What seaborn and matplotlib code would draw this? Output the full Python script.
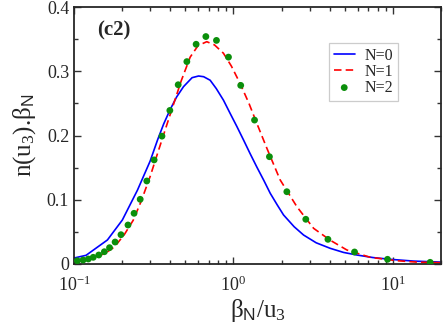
import matplotlib
matplotlib.use("Agg")
import matplotlib.pyplot as plt
import seaborn as sns
import pandas as pd
import numpy as np
from matplotlib.ticker import LogLocator, MultipleLocator, NullFormatter

# ---- data ----
n0_x = [0.1, 0.119, 0.162, 0.201, 0.25, 0.30, 0.334, 0.365, 0.40, 0.44, 0.486, 0.55, 0.604,
        0.65, 0.714, 0.78, 0.865, 0.95, 1.05, 1.156, 1.27, 1.40, 1.55, 1.70, 1.88, 2.06,
        2.40, 2.75, 3.3, 4.04, 4.9, 5.94, 7.5, 9.6, 13.5, 19.8]
n0_y = [0.0093, 0.0135, 0.0374, 0.0685, 0.115, 0.160, 0.193, 0.218, 0.240, 0.260, 0.276,
        0.290, 0.2926, 0.2915, 0.286, 0.273, 0.255, 0.235, 0.214, 0.193, 0.172, 0.151, 0.130,
        0.110, 0.092, 0.0763, 0.058, 0.0451, 0.033, 0.0244, 0.018, 0.014, 0.010, 0.0073,
        0.0045, 0.003]

n1_x = [0.1, 0.12, 0.14, 0.162, 0.18, 0.207, 0.235, 0.263, 0.30, 0.339, 0.38, 0.42,
        0.47, 0.535, 0.60, 0.68, 0.76, 0.865, 0.97, 1.10, 1.25, 1.40, 1.62, 1.96,
        2.50, 3.18, 4.04, 5.14, 7.2, 10.6, 14.0, 20.0]
n1_y = [0.003, 0.006, 0.011, 0.019, 0.027, 0.046, 0.068, 0.097, 0.136, 0.177, 0.215, 0.248,
        0.285, 0.322, 0.340, 0.346, 0.341, 0.328, 0.308, 0.281, 0.250, 0.219, 0.180, 0.131,
        0.089, 0.0555, 0.037, 0.0218, 0.0104, 0.0051, 0.003, 0.002]

n2_x = [0.105, 0.114, 0.123, 0.132, 0.143, 0.155, 0.167, 0.181, 0.197, 0.218, 0.238,
        0.260, 0.286, 0.318, 0.356, 0.399, 0.450, 0.510, 0.583, 0.671, 0.782, 0.93,
        1.11, 1.355, 1.68, 2.16, 2.84, 3.91, 5.74, 9.24, 17.1]
n2_y = [0.0051, 0.0062, 0.0078, 0.0104, 0.0140, 0.0191, 0.0254, 0.0342, 0.0456, 0.0607, 0.0789,
        0.1007, 0.1292, 0.162, 0.199, 0.239, 0.279, 0.315, 0.342, 0.354, 0.348, 0.322,
        0.278, 0.224, 0.167, 0.1125, 0.0696, 0.0384, 0.0187, 0.0073, 0.0026]

labels = ["N=0", "N=1", "N=2"]
x_ticks = [0.1, 1, 10]
x_ticklabels = [r"$10^{-1}$", r"$10^{0}$", r"$10^{1}$"]
y_ticks = [0, 0.1, 0.2, 0.3, 0.4]
y_ticklabels = ["0", "0.1", "0.2", "0.3", "0.4"]

sns.set_style("ticks")
plt.rcParams["font.family"] = ["Liberation Serif", "DejaVu Serif"]
plt.rcParams["mathtext.fontset"] = "custom"
plt.rcParams["mathtext.rm"] = "Liberation Serif"
plt.rcParams["mathtext.it"] = "Liberation Serif:italic"
plt.rcParams["mathtext.bf"] = "Liberation Serif:bold"
plt.rcParams["mathtext.sf"] = "Liberation Sans"

fig = plt.figure(figsize=(4.43, 3.36), dpi=100)
ax = fig.add_axes([74 / 443, (336 - 264) / 336, (441 - 74) / 443, (264 - 7) / 336])

df0 = pd.DataFrame({"x": n0_x, "y": n0_y})
df1 = pd.DataFrame({"x": n1_x, "y": n1_y})
df2 = pd.DataFrame({"x": n2_x, "y": n2_y})

sns.lineplot(data=df0, x="x", y="y", ax=ax, color="#0000ff", lw=1.2, label=labels[0],
             estimator=None, sort=False)
sns.lineplot(data=df1, x="x", y="y", ax=ax, color="#ff0000", lw=1.2, label=labels[1],
             estimator=None, sort=False)
ax.lines[-1].set_dashes([4.5, 2.5])
sns.scatterplot(data=df2, x="x", y="y", ax=ax, color="#0b8f0b", s=24, edgecolor="none",
                label=labels[2], zorder=3)

ax.set_xscale("log")
ax.set_xlim(0.1, 20)
ax.set_ylim(0, 0.4)
ax.set_xticks(x_ticks)
ax.set_xticklabels(x_ticklabels)
ax.xaxis.set_minor_locator(LogLocator(base=10, subs=np.arange(2, 10)))
ax.xaxis.set_minor_formatter(NullFormatter())
ax.set_yticks(y_ticks)
ax.set_yticklabels(y_ticklabels)
ax.yaxis.set_minor_locator(MultipleLocator(0.05))

ax.tick_params(which="both", direction="in", top=True, right=True, labelsize=13,
               width=1.0, color="#333333")
ax.tick_params(which="major", length=5)
ax.tick_params(which="minor", length=3)
ax.tick_params(axis="x", which="major", pad=8)
for sp in ax.spines.values():
    sp.set_linewidth(1.3)
    sp.set_visible(True)

ax.set_xlabel(r"β$_\mathsf{N}$/u$_3$", fontsize=18, labelpad=2)
ax.set_ylabel(r"n(u$_3$).β$_\mathsf{N}$", fontsize=18, labelpad=6)

ax.text(0.063, 0.907, "(c2)", transform=ax.transAxes, fontsize=15, fontweight="bold",
        va="center", ha="left")

leg = ax.legend(loc="upper left", bbox_to_anchor=(0.695, 0.86), borderaxespad=0,
                fontsize=11.5, frameon=True, fancybox=False, framealpha=1,
                edgecolor="#cccccc", handlelength=1.3, handletextpad=0.6,
                borderpad=0.3, labelspacing=0.0)
leg.get_frame().set_linewidth(0.9)

fig.savefig("out.png", dpi=100)
